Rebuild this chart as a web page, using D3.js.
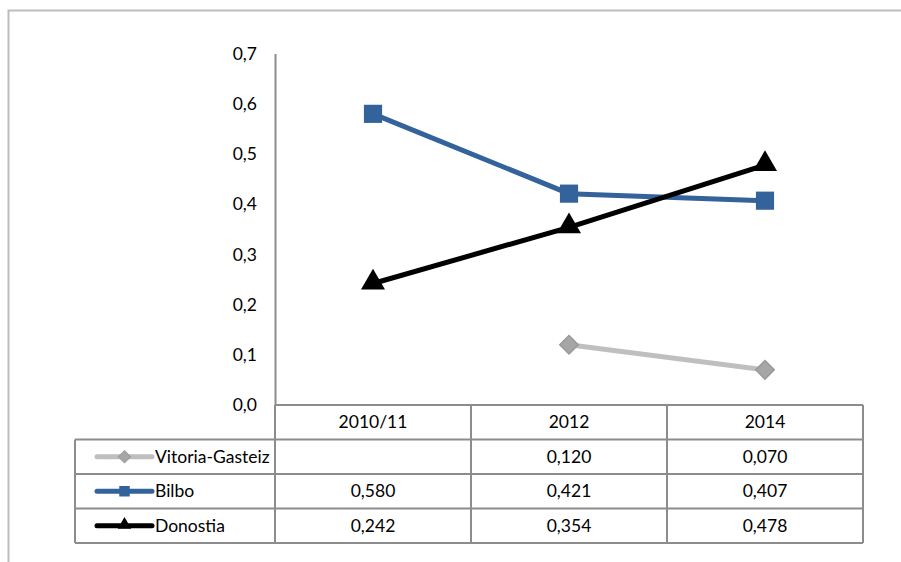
<!DOCTYPE html>
<html>
<head>
<meta charset="utf-8">
<script src="https://cdn.jsdelivr.net/npm/d3@7"></script>
<style>
  body { margin: 0; background: #fff; }
  text { font-family: Lato, "Open Sans", sans-serif; fill: #000; }
</style>
</head>
<body>
<div id="chart"></div>
<script>
(function() {
  var width = 901, height = 562;

  // data
  var categories = ["2010/11", "2012", "2014"];
  var seriesNames = ["Vitoria-Gasteiz", "Bilbo", "Donostia"];
  var vitoria = [null, 0.120, 0.070];
  var bilbo = [0.580, 0.421, 0.407];
  var donostia = [0.242, 0.354, 0.478];
  var yTicks = [0, 0.1, 0.2, 0.3, 0.4, 0.5, 0.6, 0.7];

  var series = [
    { name: seriesNames[0], values: vitoria, color: "#bfbfbf", marker: "#a6a6a6", shape: "diamond" },
    { name: seriesNames[1], values: bilbo, color: "#33639a", marker: "#33639a", shape: "square" },
    { name: seriesNames[2], values: donostia, color: "#000", marker: "#000", shape: "triangle" }
  ];

  var plot = { left: 275, right: 863, top: 53.6, bottom: 405 };
  var rowH = 34.5;
  var tableLeft = 75;
  var fontSize = "17.5px";

  // marker path + rotation per shape, big = on the plot, small = in the table key
  function marker(shape, big) {
    if (shape === "diamond") return { d: d3.symbol().type(d3.symbolSquare).size(big ? 170 : 75)(), rot: 45, dy: 0 };
    if (shape === "square") return { d: d3.symbol().type(d3.symbolSquare).size(big ? 330 : 110)(), rot: 0, dy: 0 };
    return { d: d3.symbol().type(d3.symbolTriangle).size(big ? 250 : 80)(), rot: 0, dy: big ? -1 : -1 };
  }

  var svg = d3.select("#chart").append("svg")
    .attr("width", width)
    .attr("height", height);

  // outer chart border (runs off the picture on right/bottom)
  svg.append("rect")
    .attr("x", 8.5).attr("y", 10.5)
    .attr("width", 920).attr("height", 600)
    .attr("fill", "none")
    .attr("stroke", "#bdbdbd")
    .attr("stroke-width", 2);

  var x = d3.scaleBand().domain(categories).range([plot.left, plot.right]);
  var y = d3.scaleLinear().domain([0, 0.7]).range([plot.bottom, plot.top]);

  var fmt = function(v) { return d3.format(".1f")(v).replace(".", ","); };
  var fmt3 = function(v) { return d3.format(".3f")(v).replace(".", ","); };

  // y axis
  var yAxis = svg.append("g")
    .attr("transform", "translate(" + plot.left + ",0)")
    .call(d3.axisLeft(y).tickValues(yTicks).tickFormat(fmt).tickSize(0).tickPadding(18));
  yAxis.select(".domain").attr("stroke", "#8c8c8c").attr("stroke-width", 2);
  yAxis.selectAll("text").style("font-size", fontSize).style("font-family", "Lato, sans-serif").attr("fill", "#000");

  // data table
  var tbl = svg.append("g");
  var gridColor = "#8c8c8c";
  var nRows = series.length + 1;
  var tableBottom = plot.bottom + rowH * nRows;

  // horizontal lines
  tbl.append("line")
    .attr("x1", plot.left).attr("x2", plot.right)
    .attr("y1", plot.bottom).attr("y2", plot.bottom);
  for (var i = 1; i <= nRows; i++) {
    tbl.append("line")
      .attr("x1", tableLeft).attr("x2", plot.right)
      .attr("y1", plot.bottom + rowH * i).attr("y2", plot.bottom + rowH * i);
  }
  // vertical lines
  tbl.append("line")
    .attr("x1", tableLeft).attr("x2", tableLeft)
    .attr("y1", plot.bottom + rowH).attr("y2", tableBottom);
  categories.forEach(function(c) {
    tbl.append("line")
      .attr("x1", x(c)).attr("x2", x(c))
      .attr("y1", plot.bottom).attr("y2", tableBottom);
  });
  tbl.append("line")
    .attr("x1", plot.right).attr("x2", plot.right)
    .attr("y1", plot.bottom).attr("y2", tableBottom);
  tbl.selectAll("line").attr("stroke", gridColor).attr("stroke-width", 2);

  // header
  tbl.selectAll(".cat")
    .data(categories)
    .enter().append("text")
    .attr("class", "cat")
    .attr("x", function(d) { return x(d) + x.bandwidth() / 2; })
    .attr("y", plot.bottom + rowH / 2)
    .attr("dy", "0.35em")
    .attr("text-anchor", "middle")
    .style("font-size", fontSize)
    .text(function(d) { return d; });

  series.forEach(function(s, i) {
    var cy = plot.bottom + rowH * (i + 1) + rowH / 2;
    var m = marker(s.shape, false);
    // legend key
    tbl.append("line")
      .attr("x1", 97).attr("x2", 152)
      .attr("y1", cy).attr("y2", cy)
      .attr("stroke", s.color)
      .attr("stroke-width", 5)
      .attr("stroke-linecap", "round");
    tbl.append("path")
      .attr("d", m.d)
      .attr("transform", "translate(124.5," + (cy + m.dy) + ") rotate(" + m.rot + ")")
      .attr("fill", s.marker)
      .attr("stroke", s.shape === "diamond" ? "#9a9a9a" : "none");
    tbl.append("text")
      .attr("x", 155).attr("y", cy).attr("dy", "0.35em")
      .style("font-size", fontSize)
      .text(s.name);
    // values
    s.values.forEach(function(v, j) {
      if (v === null) return;
      tbl.append("text")
        .attr("x", x(categories[j]) + x.bandwidth() / 2)
        .attr("y", cy).attr("dy", "0.35em")
        .attr("text-anchor", "middle")
        .style("font-size", fontSize)
        .text(fmt3(v));
    });
  });

  // lines and markers
  var line = d3.line()
    .defined(function(d) { return d.v !== null; })
    .x(function(d) { return x(d.c) + x.bandwidth() / 2; })
    .y(function(d) { return y(d.v); });

  series.forEach(function(s) {
    var pts = s.values.map(function(v, j) { return { c: categories[j], v: v }; });
    var m = marker(s.shape, true);
    svg.append("path")
      .datum(pts)
      .attr("d", line)
      .attr("fill", "none")
      .attr("stroke", s.color)
      .attr("stroke-width", 5);
    svg.append("g").selectAll("path")
      .data(pts.filter(function(d) { return d.v !== null; }))
      .enter().append("path")
      .attr("d", m.d)
      .attr("transform", function(d) {
        return "translate(" + (x(d.c) + x.bandwidth() / 2) + "," + (y(d.v) + m.dy) + ") rotate(" + m.rot + ")";
      })
      .attr("fill", s.marker)
      .attr("stroke", s.shape === "diamond" ? "#999" : "none")
      .attr("stroke-width", 1.5);
  });
})();
</script>
</body>
</html>
